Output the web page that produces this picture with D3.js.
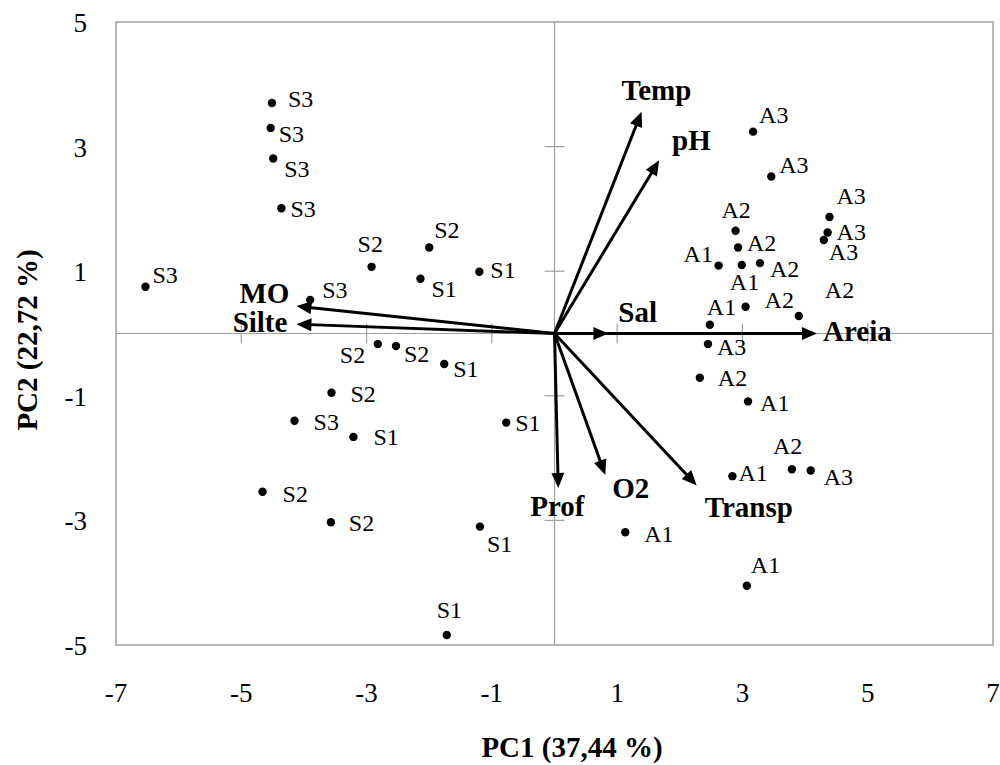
<!DOCTYPE html>
<html>
<head>
<meta charset="utf-8">
<script src="https://cdn.jsdelivr.net/npm/d3@7/dist/d3.min.js"></script>
<style>
  html, body { margin: 0; padding: 0; background: #fff; }
  svg { display: block; font-family: "Liberation Serif", "Times New Roman", serif; }
</style>
</head>
<body>
<svg id="chart" width="1000" height="765"></svg>
<script>
// ---- Data ----
const xTicks = [-7, -5, -3, -1, 1, 3, 5, 7];
const yTicks = [5, 3, 1, -1, -3, -5];

const sampleNames = [
  "S3","S3","S3","S3","S2","S2","S1","S1","S3","S3",
  "S2","S2","S1","S2","S3","S1","S1","S2","S2","S1","S1",
  "A3","A3","A2","A2","A1","A1","A2","A3","A3","A3","A2","A2","A1",
  "A3","A2","A1","A1","A2","A3","A1","A1"
];
const samplePC1 = [
  -4.51,-4.53,-4.49,-4.36,-2.92,-2.00,-2.14,-1.20,-6.53,-3.90,
  -2.82,-2.53,-1.76,-3.56,-4.15,-3.21,-0.77,-4.66,-3.57,-1.19,-1.72,
  3.17,3.46,2.89,2.93,2.62,2.99,3.28,4.39,4.36,4.30,3.90,3.05,2.48,
  2.45,2.32,3.09,2.84,3.79,4.09,1.13,3.07
];
const samplePC2 = [
  3.70,3.30,2.81,2.01,1.07,1.38,0.88,0.99,0.75,0.54,
  -0.17,-0.20,-0.49,-0.95,-1.40,-1.66,-1.43,-2.54,-3.03,-3.10,-4.84,
  3.24,2.52,1.65,1.38,1.09,1.10,1.13,1.87,1.62,1.50,0.28,0.43,0.14,
  -0.17,-0.71,-1.09,-2.29,-2.18,-2.20,-3.19,-4.05
];
// label placement relative to each point (text start, baseline) in px
const labelDX = [
  16,8,11,9,-14,5,11,11,7,12,
  -38,8,9,19,19,20,9,20,18,7,-10,
  6,8,-14,9,-35,-12,10,7,9,5,26,19,-3,
  9,18,12,6,-19,13,19,4
];
const labelDY = [
  4,14,19,9,-15,-10,18,6,-4,-2,
  19,16,13,9,9,8,8,10,9,25,-17,
  -9,-4,-13,3,-4,25,14,-13,7,20,-18,1,-10,
  11,8,10,5,-15,14,10,-13
];

const varNames = ["Temp","pH","Sal","Areia","Prof","O2","Transp","MO","Silte"];
const varPC1 = [1.39, 1.67, 0.86, 4.19, 0.06, 0.81, 2.27, -4.12, -4.12];
const varPC2 = [3.56, 2.78, 0.00, 0.00, -2.48, -2.27, -2.44, 0.44, 0.15];
const varLabelDX = [-20, 13, 10, 6, -28, 7, 8, -7, -9];
const varLabelDY = [-12, -10, -12, 7, 28, 23, 31, -3, 8];
const varLabelAnchor = ["start","start","start","start","start","start","start","end","end"];

const xTitle = "PC1 (37,44 %)";
const yTitle = "PC2 (22,72 %)";

// ---- Layout ----
const svg = d3.select("#chart");
const x = d3.scaleLinear().domain([-7, 7]).range([116, 993]);
const y = d3.scaleLinear().domain([-5, 5]).range([645, 22]);
const gray = "#a0a0a0";

// frame
svg.append("rect")
  .attr("x", x(-7)).attr("y", y(5))
  .attr("width", x(7) - x(-7)).attr("height", y(-5) - y(5))
  .attr("fill", "none").attr("stroke", gray).attr("stroke-width", 1.5);

// zero axes
svg.append("line").attr("x1", x(-7)).attr("x2", x(7)).attr("y1", y(0)).attr("y2", y(0))
  .attr("stroke", gray).attr("stroke-width", 1.2);
svg.append("line").attr("x1", x(0)).attr("x2", x(0)).attr("y1", y(-5)).attr("y2", y(5))
  .attr("stroke", gray).attr("stroke-width", 1.2);

// axis ticks crossing the zero lines
svg.append("g").selectAll("line").data(xTicks.filter(t => Math.abs(t) < 7)).join("line")
  .attr("x1", d => x(d)).attr("x2", d => x(d))
  .attr("y1", y(0) - 10).attr("y2", y(0) + 10)
  .attr("stroke", gray).attr("stroke-width", 1.2);
svg.append("g").selectAll("line").data(yTicks.filter(t => Math.abs(t) < 5)).join("line")
  .attr("x1", x(0) - 10).attr("x2", x(0) + 10)
  .attr("y1", d => y(d)).attr("y2", d => y(d))
  .attr("stroke", gray).attr("stroke-width", 1.2);

// tick labels
svg.append("g").selectAll("text").data(xTicks).join("text")
  .attr("x", d => x(d)).attr("y", 702)
  .attr("text-anchor", "middle").attr("font-size", 27).attr("fill", "#000")
  .text(d => d);
svg.append("g").selectAll("text").data(yTicks).join("text")
  .attr("x", 87).attr("y", d => y(d) + 10)
  .attr("text-anchor", "end").attr("font-size", 27).attr("fill", "#000")
  .text(d => d);

// axis titles
svg.append("text").attr("x", 572).attr("y", 757)
  .attr("text-anchor", "middle").attr("font-size", 29).attr("font-weight", "bold")
  .text(xTitle);
svg.append("text").attr("transform", "translate(37,340) rotate(-90)")
  .attr("text-anchor", "middle").attr("font-size", 29).attr("font-weight", "bold")
  .text(yTitle);

// vectors
const vecs = varNames.map((n, i) => ({ n, px: varPC1[i], py: varPC2[i], dx: varLabelDX[i], dy: varLabelDY[i], a: varLabelAnchor[i] }));
const headLen = 15, headHalf = 6.5;
const vg = svg.append("g");
vecs.forEach(v => {
  const x0 = x(0), y0 = y(0), x1 = x(v.px), y1 = y(v.py);
  const L = Math.hypot(x1 - x0, y1 - y0);
  const ux = (x1 - x0) / L, uy = (y1 - y0) / L;
  const bx = x1 - ux * headLen, by = y1 - uy * headLen;
  vg.append("line").attr("x1", x0).attr("y1", y0).attr("x2", bx + ux * 2).attr("y2", by + uy * 2)
    .attr("stroke", "#000").attr("stroke-width", 3);
  vg.append("path")
    .attr("d", `M${x1},${y1} L${bx - uy * headHalf},${by + ux * headHalf} L${bx + uy * headHalf},${by - ux * headHalf} Z`)
    .attr("fill", "#000");
  vg.append("text").attr("x", x1 + v.dx).attr("y", y1 + v.dy)
    .attr("text-anchor", v.a).attr("font-size", 29).attr("font-weight", "bold")
    .text(v.n);
});

// sample points
const pts = sampleNames.map((n, i) => ({ n, px: samplePC1[i], py: samplePC2[i], dx: labelDX[i], dy: labelDY[i] }));
svg.append("g").selectAll("circle").data(pts).join("circle")
  .attr("cx", d => x(d.px)).attr("cy", d => y(d.py)).attr("r", 4.2).attr("fill", "#000");
svg.append("g").selectAll("text").data(pts).join("text")
  .attr("x", d => x(d.px) + d.dx).attr("y", d => y(d.py) + d.dy)
  .attr("font-size", 24).attr("fill", "#000")
  .text(d => d.n);
</script>
</body>
</html>
